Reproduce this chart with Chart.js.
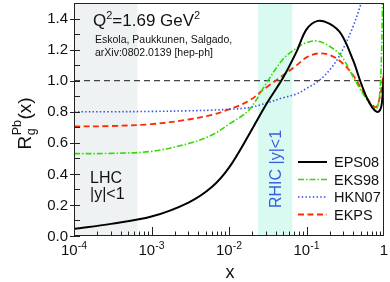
<!DOCTYPE html>
<html>
<head>
<meta charset="utf-8">
<script src="https://cdn.jsdelivr.net/npm/chart.js@4/dist/chart.umd.min.js"></script>
<style>
  html, body { margin: 0; padding: 0; background: #fff; }
</style>
</head>
<body>
<canvas id="c" width="390" height="282"></canvas>
<script>
// x grid shared by all curves
const xs = [1e-4, 3e-4, 1e-3, 3e-3, 6e-3, 0.01, 0.018, 0.03, 0.05, 0.075, 0.1, 0.14, 0.2, 0.28, 0.4, 0.5, 0.6, 0.7, 0.8, 0.87, 0.92, 0.95, 0.97, 0.985, 1.0];
const eps08 = [0.045, 0.078, 0.125, 0.215, 0.315, 0.44, 0.65, 0.845, 1.02, 1.19, 1.33, 1.385, 1.365, 1.30, 1.13, 0.99, 0.89, 0.83, 0.80, 0.805, 0.83, 0.88, 0.95, 1.0, 1.05];
const eks98 = [0.53, 0.532, 0.545, 0.595, 0.65, 0.72, 0.81, 0.98, 1.14, 1.21, 1.245, 1.255, 1.22, 1.16, 1.025, 0.94, 0.88, 0.84, 0.82, 0.89, 1.1, 1.4, 1.7, 2.2, 3.0];
const hkn07 = [0.80, 0.80, 0.802, 0.806, 0.81, 0.816, 0.826, 0.855, 0.89, 0.915, 0.95, 0.995, 1.07, 1.18, 1.35, 1.49, 1.62, null, null, null, null, null, null, null, null];
const ekps  = [0.705, 0.708, 0.72, 0.75, 0.78, 0.815, 0.87, 0.955, 1.035, 1.10, 1.15, 1.175, 1.165, 1.12, 1.035, 0.955, 0.89, 0.845, 0.83, 0.88, 0.94, 0.99, 1.02, 1.04, 1.05];

const seriesNames = ['EPS08', 'EKS98', 'HKN07', 'EKPS'];
const seriesColors = ['#000000', '#33dd00', '#3355ee', '#ff2a00'];

const yTicks = [0, 0.2, 0.4, 0.6, 0.8, 1.0, 1.2, 1.4];
const yTickLabels = ['0.0', '0.2', '0.4', '0.6', '0.8', '1.0', '1.2', '1.4'];
const xTicks = [1e-4, 1e-3, 1e-2, 1e-1, 1];
const xTickLabels = [['10', '-4'], ['10', '-3'], ['10', '-2'], ['10', '-1'], ['1', '']];

// shaded kinematic windows (x ranges)
const lhcBand = [1e-4, 6.6e-4];
const rhicBand = [0.0237, 0.0657];

const FONT = '"Liberation Sans", Arial, sans-serif';

function pts(arr) {
  return xs.map((x, i) => ({ x: x, y: arr[i] }));
}

const styles = [
  { borderWidth: 2, borderDash: [] },
  { borderWidth: 1.6, borderDash: [6, 2, 1.5, 2] },
  { borderWidth: 1.6, borderDash: [1.5, 2.2] },
  { borderWidth: 1.8, borderDash: [6, 3.5] }
];

const datasets = [eps08, eks98, hkn07, ekps].map((arr, i) => ({
  label: seriesNames[i],
  data: pts(arr),
  borderColor: seriesColors[i],
  borderWidth: styles[i].borderWidth,
  borderDash: styles[i].borderDash,
  pointRadius: 0,
  fill: false,
  tension: 0.35
}));

// reference line at R = 1
datasets.push({
  label: 'ref',
  data: [{ x: 1e-4, y: 1 }, { x: 1, y: 1 }],
  borderColor: '#444',
  borderWidth: 1.2,
  borderDash: [6, 4],
  pointRadius: 0,
  fill: false,
  order: 10
});

function drawParts(ctx, parts, x, y) {
  // parts: [text, size, dy]
  let cx = x;
  parts.forEach(p => {
    ctx.font = p[1] + 'px ' + FONT;
    ctx.fillText(p[0], cx, y + p[2]);
    cx += ctx.measureText(p[0]).width;
  });
}
function partsWidth(ctx, parts) {
  let w = 0;
  parts.forEach(p => {
    ctx.font = p[1] + 'px ' + FONT;
    w += ctx.measureText(p[0]).width;
  });
  return w;
}

const decor = {
  id: 'decor',
  beforeDatasetsDraw(chart) {
    const ctx = chart.ctx, a = chart.chartArea;
    const xs_ = chart.scales.x;
    ctx.save();
    ctx.fillStyle = '#eff2f2';
    let x0 = xs_.getPixelForValue(lhcBand[0]), x1 = xs_.getPixelForValue(lhcBand[1]);
    ctx.fillRect(x0, a.top, x1 - x0, a.bottom - a.top);
    ctx.fillStyle = '#d8faf1';
    x0 = xs_.getPixelForValue(rhicBand[0]); x1 = xs_.getPixelForValue(rhicBand[1]);
    ctx.fillRect(x0, a.top, x1 - x0, a.bottom - a.top);

    // RHIC label (rotated)
    ctx.fillStyle = '#3a5de0';
    ctx.font = '16px ' + FONT;
    ctx.translate((x0 + x1) / 2 + 6, a.bottom - 28);
    ctx.rotate(-Math.PI / 2);
    ctx.textBaseline = 'alphabetic';
    ctx.textAlign = 'left';
    ctx.fillText('RHIC |y|<1', 0, 0);
    ctx.restore();

    // LHC label
    ctx.save();
    ctx.fillStyle = '#111';
    ctx.font = '16px ' + FONT;
    ctx.fillText('LHC', a.left + 16, 183);
    ctx.fillText('|y|<1', a.left + 16, 199);
    ctx.restore();
  },
  afterDatasetsDraw(chart) {
    const ctx = chart.ctx, a = chart.chartArea;
    const sx = chart.scales.x, sy = chart.scales.y;
    ctx.save();
    // frame
    ctx.strokeStyle = '#222';
    ctx.lineWidth = 1;
    ctx.setLineDash([]);
    ctx.strokeRect(Math.round(a.left) + 0.5, Math.round(a.top) + 0.5, Math.round(a.right - a.left) - 1, Math.round(a.bottom - a.top) - 1);

    // y ticks
    ctx.beginPath();
    for (let v = 0; v <= 1.5001; v += 0.1) {
      const py = Math.round(sy.getPixelForValue(v)) + 0.5;
      const major = Math.abs(v * 5 - Math.round(v * 5)) < 1e-6;
      ctx.moveTo(a.left, py);
      ctx.lineTo(a.left + 6, py);
      if (major) { ctx.moveTo(a.left - 4, py); ctx.lineTo(a.left, py); }
    }
    // x ticks
    for (let e = -4; e < 0; e++) {
      for (let m = 1; m <= 9; m++) {
        const px = Math.round(sx.getPixelForValue(m * Math.pow(10, e))) + 0.5;
        const len = m === 1 ? 9 : 4.5;
        ctx.moveTo(px, a.bottom);
        ctx.lineTo(px, a.bottom - len);
      }
    }
    ctx.stroke();

    // y tick labels
    ctx.fillStyle = '#111';
    ctx.font = '15px ' + FONT;
    ctx.textAlign = 'right';
    ctx.textBaseline = 'middle';
    yTicks.forEach((v, i) => {
      ctx.fillText(yTickLabels[i], a.left - 6, sy.getPixelForValue(v) + 0.5);
    });

    // x tick labels
    ctx.textAlign = 'left';
    ctx.textBaseline = 'alphabetic';
    xTicks.forEach((v, i) => {
      const parts = [[xTickLabels[i][0], 15, 0], [xTickLabels[i][1], 10.5, -6]];
      const w = partsWidth(ctx, parts);
      drawParts(ctx, parts, sx.getPixelForValue(v) - w / 2, a.bottom + 19);
    });

    // x axis title
    ctx.font = '18px ' + FONT;
    ctx.textAlign = 'center';
    ctx.fillText('x', (a.left + a.right) / 2 + 1, 278);

    // y axis title
    ctx.save();
    ctx.translate(31, 124);
    ctx.rotate(-Math.PI / 2);
    ctx.textAlign = 'left';
    ctx.font = '19px ' + FONT;
    const wR = ctx.measureText('R').width;
    ctx.font = '12.5px ' + FONT;
    const wSub = Math.max(ctx.measureText('g').width, ctx.measureText('Pb').width);
    ctx.font = '19px ' + FONT;
    const wP = ctx.measureText('(x)').width;
    let sxp = -(wR + wSub + wP) / 2;
    ctx.fillText('R', sxp, 0);
    ctx.font = '12.5px ' + FONT;
    ctx.fillText('g', sxp + wR + 0.5, 4);
    ctx.fillText('Pb', sxp + wR + 0.5, -10);
    ctx.font = '19px ' + FONT;
    ctx.fillText('(x)', sxp + wR + wSub + 1, 0);
    ctx.restore();

    // header text
    ctx.textAlign = 'left';
    drawParts(ctx, [['Q', 17, 0], ['2', 11, -7], ['=1.69 GeV', 17, 0], ['2', 11, -7]], a.left + 19, 26);
    ctx.font = '10.5px ' + FONT;
    ctx.fillText('Eskola, Paukkunen, Salgado,', a.left + 21, 43);
    ctx.fillText('arXiv:0802.0139 [hep-ph]', a.left + 21, 56);

    // legend
    const rows = [162, 179.5, 197, 214.5];
    ctx.font = '14.5px ' + FONT;
    ctx.textBaseline = 'middle';
    seriesNames.forEach((n, i) => {
      ctx.strokeStyle = seriesColors[i];
      ctx.lineWidth = styles[i].borderWidth;
      ctx.setLineDash(styles[i].borderDash);
      ctx.beginPath();
      ctx.moveTo(298, rows[i]);
      ctx.lineTo(327, rows[i]);
      ctx.stroke();
      ctx.fillStyle = '#111';
      ctx.fillText(n, 334, rows[i] + 1);
    });
    ctx.restore();
  }
};

new Chart(document.getElementById('c'), {
  type: 'line',
  data: { datasets: datasets },
  options: {
    responsive: false,
    animation: false,
    parsing: false,
    layout: { padding: { left: 74, right: 6, top: 3, bottom: 46 } },
    plugins: { legend: { display: false }, tooltip: { enabled: false } },
    scales: {
      x: { type: 'logarithmic', min: 1e-4, max: 1, display: false },
      y: { type: 'linear', min: 0, max: 1.5, display: false }
    }
  },
  plugins: [decor]
});
</script>
</body>
</html>
